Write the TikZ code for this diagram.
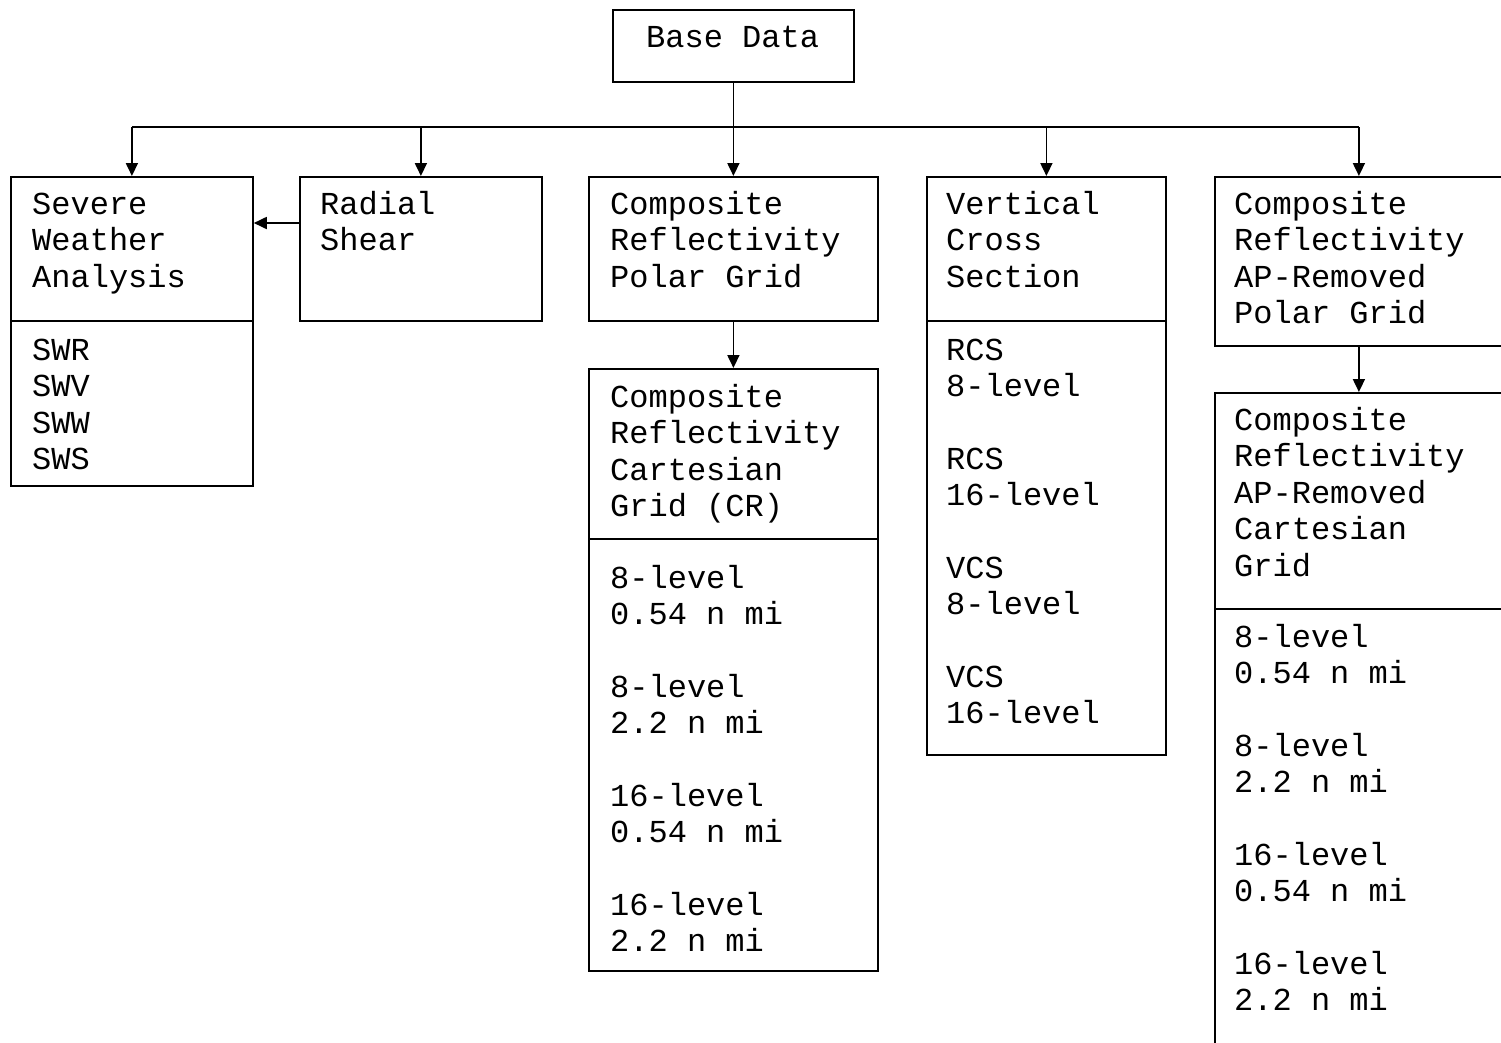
\documentclass[tikz,border=0pt]{standalone}
\usepackage{fontspec}
\setmonofont{Liberation Mono}
\usetikzlibrary{arrows.meta}
\tikzset{
  box/.style={draw=black, line width=1.8pt, rectangle, inner sep=0pt, anchor=north west},
  txt/.style={anchor=base west, inner sep=0pt, font=\ttfamily\fontsize{32}{36.5}\selectfont, text=black},
  arr/.style={line width=1.8pt, -{Triangle[length=13pt,width=12pt]}},
  conn/.style={line width=1.8pt}
}
\newcommand\txtblock[4]{%
  \foreach \myl [count=\i] in {#4} \node[txt] (#1-\i) at (#2, {#3+36.5*(\i-1)}) {\myl};}
\begin{document}
\begin{tikzpicture}[x=1pt, y=-1pt]
\useasboundingbox (0,0) rectangle (1501,1042);
\clip (0,0) rectangle (1501,1042);
% boxes
\node[box, minimum width=241pt, minimum height=72pt] (base) at (612,9) {};
\node[box, minimum width=242pt, minimum height=144pt] (swa) at (10,176) {};
\node[box, minimum width=242pt, minimum height=165pt] (swal) at (10,320) {};
\node[box, minimum width=242pt, minimum height=144pt] (rad) at (299,176) {};
\node[box, minimum width=289pt, minimum height=144pt] (cpg) at (588,176) {};
\node[box, minimum width=289pt, minimum height=170pt] (crc) at (588,368) {};
\node[box, minimum width=289pt, minimum height=432pt] (crcl) at (588,538) {};
\node[box, minimum width=239pt, minimum height=144pt] (vcs) at (926,176) {};
\node[box, minimum width=239pt, minimum height=434pt] (vcsl) at (926,320) {};
\node[box, minimum width=288pt, minimum height=169pt] (app) at (1214,176) {};
\node[box, minimum width=288pt, minimum height=216pt] (apc) at (1214,392) {};
\node[box, minimum width=288pt, minimum height=470pt] (apcl) at (1214,608) {};
% texts
\node[txt] (base-t) at (646,47) {Base Data};
\txtblock{swa}{32}{214}{Severe,Weather,Analysis}
\txtblock{swal}{32}{360}{SWR,SWV,SWW,SWS}
\txtblock{rad}{320}{214}{Radial,Shear}
\txtblock{cpg}{610}{214}{Composite,Reflectivity,Polar Grid}
\txtblock{crc}{610}{407}{Composite,Reflectivity,Cartesian,Grid (CR)}
\txtblock{crca}{610}{588}{8-level,0.54 n mi}
\txtblock{crcb}{610}{697}{8-level,2.2 n mi}
\txtblock{crcc}{610}{806}{16-level,0.54 n mi}
\txtblock{crcd}{610}{915}{16-level,2.2 n mi}
\txtblock{vcs}{946}{214}{Vertical,Cross,Section}
\txtblock{vcsa}{946}{360}{RCS,8-level}
\txtblock{vcsb}{946}{469}{RCS,16-level}
\txtblock{vcsc}{946}{578}{VCS,8-level}
\txtblock{vcsd}{946}{687}{VCS,16-level}
\txtblock{app}{1234}{214}{Composite,Reflectivity,AP-Removed,Polar Grid}
\txtblock{apc}{1234}{430}{Composite,Reflectivity,AP-Removed,Cartesian,Grid}
\txtblock{apca}{1234}{647}{8-level,0.54 n mi}
\txtblock{apcb}{1234}{756}{8-level,2.2 n mi}
\txtblock{apcc}{1234}{865}{16-level,0.54 n mi}
\txtblock{apcd}{1234}{974}{16-level,2.2 n mi}
% connectors
\coordinate (busy) at (0,127);
\coordinate (arry) at (0,223);
\draw[conn] (swa.north |- busy) -- (app.north |- busy);
\draw[arr] (base.south) -- (base.south |- cpg.north);
\foreach \n in {swa,rad,vcs,app} \draw[arr] (\n.north |- busy) -- (\n.north);
\draw[arr] (cpg.south) -- (cpg.south |- crc.north);
\draw[arr] (app.south) -- (apc.north);
\draw[arr] (rad.west |- arry) -- (swa.east |- arry);
\end{tikzpicture}
\end{document}
